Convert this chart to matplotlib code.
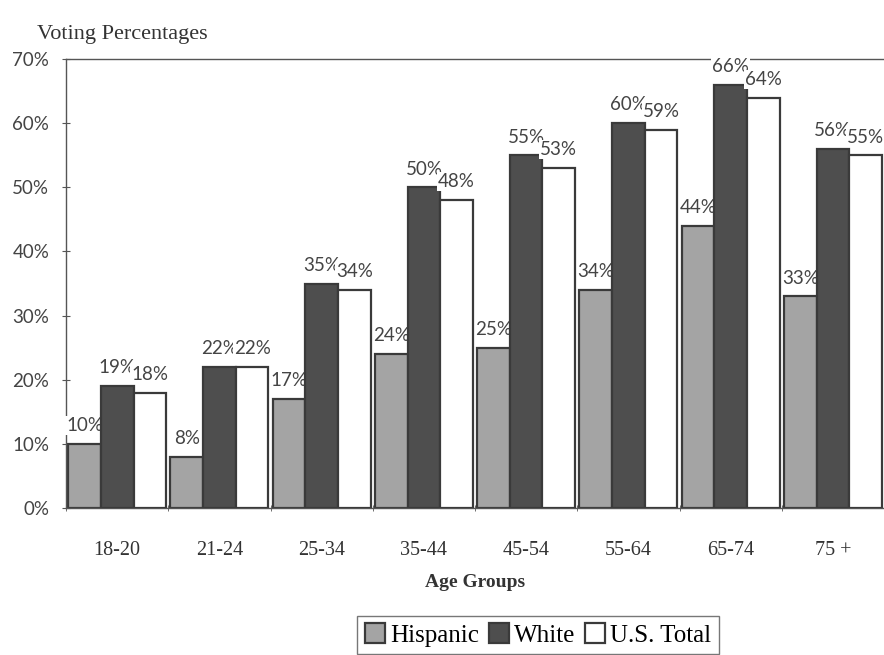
import matplotlib.pyplot as plt
from matplotlib.patches import Patch

plt.rcParams['font.family'] = ['Liberation Serif', 'DejaVu Serif']
PCT_FONT = ['Lato', 'DejaVu Sans']

groups = ["18-20", "21-24", "25-34", "35-44", "45-54", "55-64", "65-74", "75 +"]
hispanic = [10, 8, 17, 24, 25, 34, 44, 33]
white = [19, 22, 35, 50, 55, 60, 66, 56]
total = [18, 22, 34, 48, 53, 59, 64, 55]

series = [("Hispanic", hispanic, "#a4a4a4", -0.32),
          ("White", white, "#4e4e4e", 0.0),
          ("U.S. Total", total, "#ffffff", 0.32)]

fig = plt.figure(figsize=(8.84, 6.55), dpi=100)
ax = fig.add_axes([0.0747, 0.2244, 0.9253, 0.6855])

x = list(range(len(groups)))
for k, (name, vals, col, off) in enumerate(series):
    z = 2 + 2 * k
    ax.bar([i + off for i in x], vals, width=0.32, color=col,
           edgecolor="#3a3a3a", linewidth=1.6, zorder=z)
    for i, v in enumerate(vals):
        ax.annotate(f"{v}%", (i + off, v), xytext=(0, 7), textcoords="offset points",
                    ha="center", va="bottom", fontsize=13.5, color="#444444",
                    family=PCT_FONT, zorder=z + 1,
                    bbox=dict(boxstyle="square,pad=0.05", fc="white", ec="none"))

ax.set_xlim(-0.5, 7.5)
ax.set_ylim(0, 70)
ax.set_yticks(range(0, 71, 10))
ax.set_yticklabels([f"{t}%" for t in range(0, 71, 10)], fontsize=13.5,
                   color="#444444", family=PCT_FONT)
ax.set_xticks(x)
ax.set_xticklabels(groups, fontsize=14.5, color="#333333")
ax.set_xticks([i - 0.5 for i in range(9)], minor=True)
ax.tick_params(axis="x", which="major", length=0, pad=24)
ax.tick_params(axis="x", which="minor", length=5, direction="inout", color="#555555")
ax.tick_params(axis="y", length=6, direction="inout", color="#555555", pad=9)
ax.spines["right"].set_visible(False)
for s in ["left", "bottom", "top"]:
    ax.spines[s].set_color("#555555")
    ax.spines[s].set_linewidth(1.0)
ax.spines["top"].set_zorder(1)
ax.set_xlabel("Age Groups", fontsize=14, fontweight="bold", color="#333333", labelpad=10)

fig.text(37 / 884, 1 - 35 / 655, "Voting Percentages", fontsize=16,
         color="#333333", va="center", ha="left")

handles = [Patch(facecolor=c, edgecolor="#3a3a3a", linewidth=1.6) for _, _, c, _ in series]
fig.legend(handles, [s[0] for s in series], loc="center", bbox_to_anchor=(538 / 884, 1 - 635 / 655),
           ncol=3, fontsize=18, frameon=True, fancybox=False, edgecolor="#555555",
           handlelength=0.8, handleheight=0.8, handletextpad=0.2, columnspacing=0.4,
           borderpad=0.3)

fig.savefig("out.png", dpi=100)
